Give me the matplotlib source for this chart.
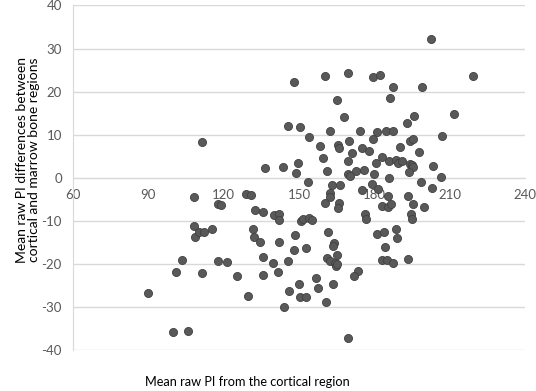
import numpy as np
import matplotlib
matplotlib.use("Agg")
from matplotlib import pyplot as plt

# mean raw PI from the cortical region
cortical_pi = [
    148.2, 145.8, 150.4, 154.1, 111.4, 136.5, 143.5, 149.6, 149.0, 202.5,
    160.2, 169.5, 179.3, 182.4, 219.3, 187.5, 198.8, 186.3, 165.1, 167.9,
    211.8, 195.8, 193.1, 162.2, 174.5, 180.9, 184.8, 187.5, 170.1, 179.5,
    194.1, 195.3, 207.0, 158.3, 165.7, 166.1, 175.0, 177.7, 171.1, 190.4,
    197.8, 159.4, 183.0, 169.5, 185.9, 188.7, 189.4, 191.2, 194.3, 195.1,
    195.5, 194.0, 203.3, 180.6, 175.8, 172.7, 169.5, 170.5, 179.8, 161.0,
    185.9, 206.5, 153.6, 163.1, 166.4, 198.6, 179.0, 203.1, 175.0, 181.3,
    162.2, 162.4, 185.6, 193.3, 108.1, 117.8, 118.8, 128.9, 131.0, 132.6,
    135.5, 139.9, 141.9, 142.0, 150.9, 151.5, 154.1, 155.1, 108.1, 108.5,
    110.4, 112.3, 115.4, 131.7, 132.2, 134.6, 148.4, 142.1, 148.0, 152.8,
    103.4, 117.9, 121.2, 135.8, 139.6, 145.7, 100.9, 111.4, 125.4, 135.8,
    141.5, 89.9, 129.8, 146.0, 150.1, 150.5, 152.9, 144.1, 99.7, 105.9,
    160.4, 166.1, 165.5, 183.1, 185.6, 186.8, 195.5, 199.7, 176.4, 176.8,
    194.5, 195.1, 161.4, 181.1, 184.0, 188.8, 189.0, 164.1, 163.6, 184.2,
    161.0, 162.4, 164.3, 164.8, 165.3, 165.3, 183.1, 185.2, 187.6, 193.3,
    173.7, 172.0, 156.9, 157.7, 163.6, 160.8, 169.7,
]

# mean raw PI difference cortical - marrow
pi_difference = [
    22.2, 11.9, 11.7, 9.5, 8.2, 2.3, 2.6, 3.4, 1.2, 32.3,
    23.6, 24.4, 23.5, 23.9, 23.6, 21.0, 21.1, 18.5, 18.0, 14.1,
    14.9, 14.4, 12.8, 10.8, 10.8, 10.5, 10.8, 10.8, 8.6, 9.1,
    8.5, 8.9, 9.6, 7.3, 7.7, 7.0, 7.0, 6.1, 5.8, 7.1,
    6.0, 4.6, 4.9, 3.8, 3.9, 4.1, 3.4, 3.9, 3.3, 2.9,
    2.5, 1.4, 2.8, 3.4, 1.9, 1.5, 0.9, 0.5, 0.9, 1.6,
    -0.1, 0.1, -1.1, -1.8, -1.6, -0.9, -1.5, -2.4, -2.8, -2.6,
    -3.6, -4.5, -4.3, -4.3, -4.4, -6.0, -6.3, -3.7, -4.0, -7.4,
    -8.0, -8.7, -8.4, -9.9, -10.1, -9.5, -9.4, -9.8, -11.1, -13.8,
    -12.7, -12.6, -11.9, -11.8, -13.8, -14.9, -13.2, -15.0, -16.7, -16.3,
    -19.0, -19.3, -19.6, -18.3, -19.7, -19.4, -21.8, -22.1, -22.8, -22.5,
    -21.8, -26.7, -27.5, -26.4, -24.7, -27.6, -27.6, -30.0, -35.8, -35.5,
    -5.9, -5.9, -7.0, -6.6, -6.9, -6.0, -6.0, -6.9, -8.4, -9.6,
    -8.5, -9.6, -12.5, -13.0, -12.5, -11.8, -14.1, -15.2, -15.8, -16.0,
    -18.6, -19.3, -19.7, -20.6, -20.0, -17.9, -19.0, -19.0, -19.8, -18.8,
    -21.6, -22.8, -23.3, -25.7, -24.8, -28.8, -37.2,
]

x_ticks = [60, 90, 120, 150, 180, 210, 240]
y_ticks = [-40, -30, -20, -10, 0, 10, 20, 30, 40]

plt.rcParams['font.family'] = ['Lato', 'DejaVu Sans']
plt.rcParams['axes.unicode_minus'] = False

fig = plt.figure(figsize=(5.36, 3.91), dpi=100)
ax = fig.add_axes([0.136, 0.105, 0.8435, 0.881])

ax.scatter(cortical_pi, pi_difference, s=34, color='#595959',
           edgecolors='#404040', linewidths=0.6, zorder=3)

ax.set_xlim(60, 240)
ax.set_ylim(-40, 40)
ax.set_xticks(x_ticks)
ax.set_yticks(y_ticks)

# horizontal gridlines only, like excel
ax.yaxis.grid(True, color='#d9d9d9', linewidth=1)
ax.xaxis.grid(False)
ax.set_axisbelow(True)

for s in ['top', 'right']:
    ax.spines[s].set_visible(False)
ax.spines['left'].set_color('#d9d9d9')
ax.spines['bottom'].set_color('#d9d9d9')
ax.spines['bottom'].set_position(('data', 0))

ax.tick_params(axis='both', length=0, labelsize=9.5, labelcolor='#595959')
ax.tick_params(axis='x', pad=8)
ax.tick_params(axis='y', pad=8)

fig.text(0.052, 0.591, 'Mean raw PI differences between\ncortical and marrow bone regions',
         rotation=90, ha='center', va='center', fontsize=10, color='black',
         linespacing=1.05)
fig.text(0.462, 0.022, 'Mean raw PI from the cortical region',
         ha='center', va='center', fontsize=9.2, color='black')

fig.savefig('out.png', dpi=100)
